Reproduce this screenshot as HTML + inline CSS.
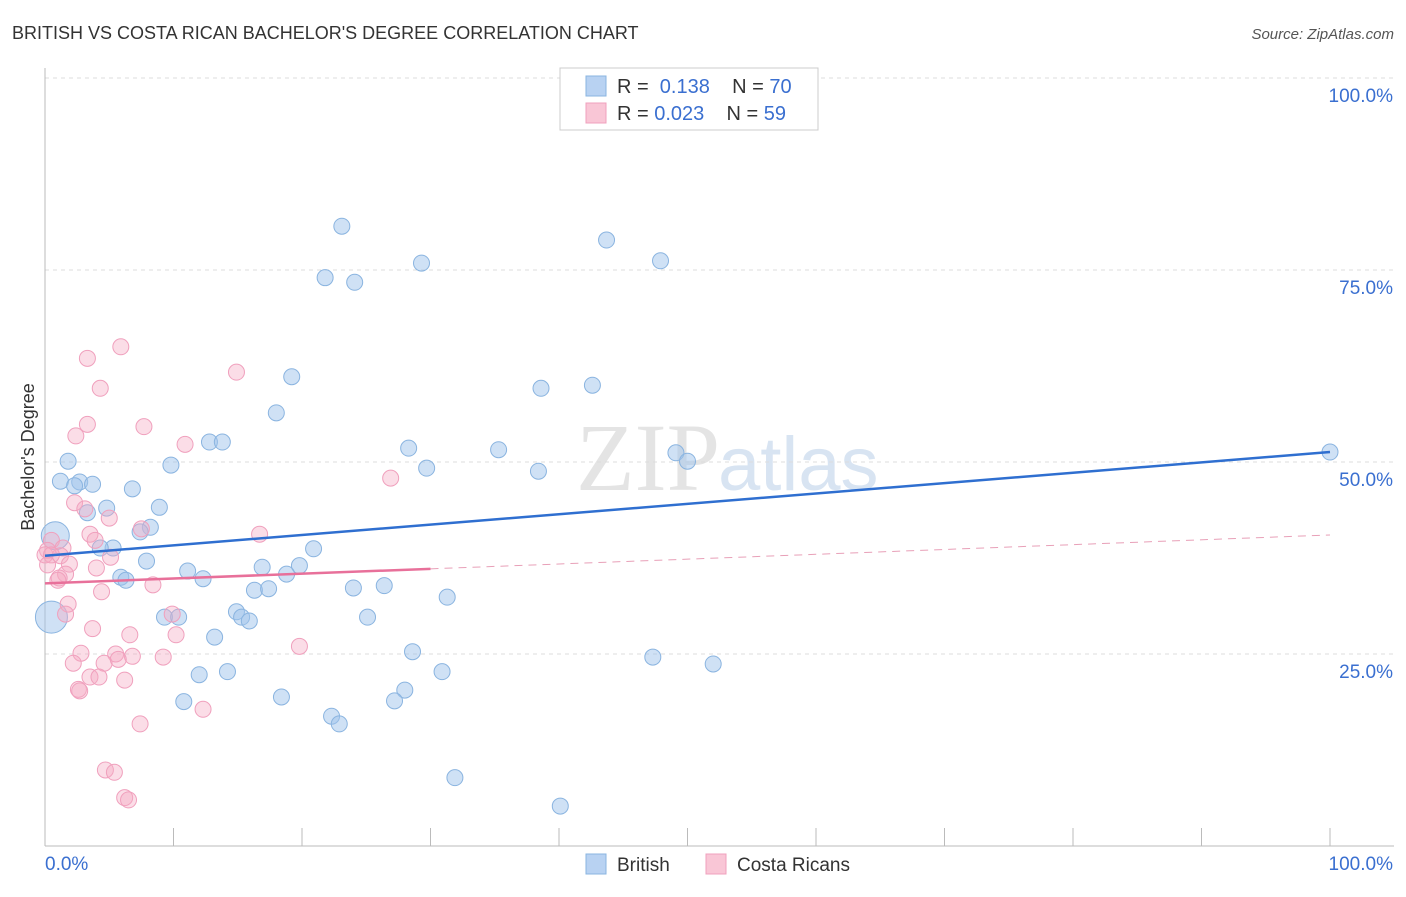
<!DOCTYPE html>
<html><head><meta charset="utf-8"><style>
body{margin:0;background:#fff;font-family:"Liberation Sans",sans-serif}
</style></head><body>
<svg id="chart" width="1406" height="892" xmlns="http://www.w3.org/2000/svg" font-family="Liberation Sans, sans-serif">
<text x="12" y="39" font-size="18" fill="#333">BRITISH VS COSTA RICAN BACHELOR'S DEGREE CORRELATION CHART</text>
<text x="1394" y="39" font-size="15" fill="#555" text-anchor="end" font-style="italic">Source: ZipAtlas.com</text>
<text x="720" y="490" font-size="96" fill="#e4e4e4" text-anchor="end" font-family="Liberation Serif, serif">ZIP</text>
<text x="718" y="490" font-size="76" fill="#d8e4f2">atlas</text>
<g id="grid"></g><g id="pts"></g><g id="lines"></g>
<text transform="translate(34,457) rotate(-90)" font-size="18" fill="#333" text-anchor="middle">Bachelor's Degree</text>
<g>
<rect x="560" y="68" width="258" height="62" fill="#fff" stroke="#ccc"/>
<rect x="586" y="76" width="20" height="20" fill="#b8d2f2" stroke="#8ab4e0"/>
<rect x="586" y="103" width="20" height="20" fill="#f9c6d6" stroke="#f0a0bd"/>
<text x="617" y="93" font-size="20" fill="#333">R = <tspan fill="#3a6fd0">&#160;0.138</tspan>&#160;&#160;&#160; N = <tspan fill="#3a6fd0">70</tspan></text>
<text x="617" y="120" font-size="20" fill="#333">R = <tspan fill="#3a6fd0">0.023</tspan>&#160;&#160;&#160; N = <tspan fill="#3a6fd0">59</tspan></text>
</g>
<g>
<rect x="586" y="854" width="20" height="20" fill="#b8d2f2" stroke="#8ab4e0"/>
<text x="617" y="871" font-size="19" fill="#333">British</text>
<rect x="706" y="854" width="20" height="20" fill="#f9c6d6" stroke="#f0a0bd"/>
<text x="737" y="871" font-size="19" fill="#333">Costa Ricans</text>
</g>
</svg>
<script>
const yTicks=[100,75,50,25];
const yTickLabels=["100.0%","75.0%","50.0%","25.0%"];
const xTicks=[0,10,20,30,40,50,60,70,80,90,100];
const britishX=[23.1,43.7,47.9,29.3,21.8,24.1,19.2,38.6,42.6,18.0,12.8,13.8,28.3,35.3,49.1,50.0,9.8,29.7,38.4,1.8,1.2,2.7,3.7,2.3,6.8,8.9,4.8,3.3,8.2,7.4,0.8,5.3,4.3,20.9,7.9,16.9,19.8,11.1,18.8,12.3,5.9,6.3,16.3,17.4,24.0,26.4,31.3,14.9,15.3,15.9,9.3,10.4,25.1,13.2,0.5,28.6,47.3,52.0,30.9,14.2,12.0,28.0,18.4,27.2,10.8,22.3,22.9,31.9,40.1,100];
const britishY=[80.7,78.9,76.2,75.9,74.0,73.4,61.1,59.6,60.0,56.4,52.6,52.6,51.8,51.6,51.2,50.1,49.6,49.2,48.8,50.1,47.5,47.4,47.1,46.9,46.5,44.1,44.0,43.4,41.5,40.9,40.4,38.8,38.8,38.7,37.1,36.3,36.5,35.8,35.4,34.8,35.0,34.6,33.3,33.5,33.6,33.9,32.4,30.5,29.8,29.3,29.8,29.8,29.8,27.2,29.8,25.3,24.6,23.7,22.7,22.7,22.3,20.3,19.4,18.9,18.8,16.9,15.9,8.9,5.2,51.3];
const costaX=[5.9,3.3,14.9,4.3,3.3,7.7,2.4,10.9,26.9,2.3,3.1,5.0,7.5,16.7,3.5,3.9,0.5,1.4,0.2,5.1,1.2,1.9,4.0,1.6,1.1,1.0,8.4,4.4,1.8,1.6,9.9,3.7,10.2,6.6,19.8,2.8,5.5,6.8,2.2,4.6,5.7,9.2,3.5,4.2,6.2,2.6,2.7,12.3,7.4,4.7,5.4,6.2,6.5,0,0.5,0.2];
const costaY=[65.0,63.5,61.7,59.6,54.9,54.6,53.4,52.3,47.9,44.7,43.9,42.7,41.3,40.6,40.6,39.8,39.8,38.8,38.5,37.6,37.8,36.7,36.2,35.4,34.9,34.6,34.0,33.1,31.5,30.2,30.2,28.3,27.5,27.5,26.0,25.1,25.0,24.7,23.8,23.8,24.3,24.6,22.0,22.0,21.6,20.4,20.2,17.8,15.9,9.9,9.6,6.3,6.0,37.9,37.9,36.6];
const britishTrend=[37.8,51.3];
const costaTrend=[34.2,40.5];
const costaSolidEnd=30;
const X=v=>45+v*12.85, Y=v=>846-v*7.68;
const NS="http://www.w3.org/2000/svg";
function mk(tag,attrs,parent){const e=document.createElementNS(NS,tag);for(const k in attrs)e.setAttribute(k,attrs[k]);parent.appendChild(e);return e;}
const grid=document.getElementById('grid');
yTicks.forEach((t,i)=>{
 const l=mk('line',{x1:45,x2:1394,y1:Y(t),y2:Y(t),stroke:'#ddd','stroke-dasharray':'4,4'},grid);
 
 
 const tx=mk('text',{x:1393,y:Y(t)+24,'font-size':19,fill:'#3a6fd0','text-anchor':'end'},grid);
 tx.textContent=yTickLabels[i];
 
 
});
const ax=mk('line',{x1:45,x2:45,y1:68,y2:846,stroke:'#bbb'},grid);


const bx=mk('line',{x1:45,x2:1394,y1:846,y2:846,stroke:'#bbb'},grid);


xTicks.forEach(t=>{
 const l=mk('line',{x1:X(t),x2:X(t),y1:828,y2:846,stroke:'#bbb'},grid);
 
 
});
[[0,"0.0%",'start',45],[100,"100.0%",'end',1393]].forEach(a=>{
 const tx=mk('text',{x:a[3],y:870,'font-size':19,fill:'#3a6fd0','text-anchor':a[2]},grid);
 tx.textContent=a[1];
 
 
});
const pts=document.getElementById('pts');
britishX.forEach((x,i)=>{
 const r=(i===30)?14:(i===54?16:8);
 const c=mk('circle',{cx:X(x),cy:Y(britishY[i]),r:r,fill:'rgba(160,195,235,0.5)',stroke:'#8ab4e0','stroke-width':1},pts);
 
 
});
costaX.forEach((x,i)=>{
 const c=mk('circle',{cx:X(x),cy:Y(costaY[i]),r:8,fill:'rgba(245,170,195,0.4)',stroke:'#f0a0bd','stroke-width':1},pts);
 
 
});
const lines=document.getElementById('lines');
const b=mk('line',{x1:X(0),y1:Y(britishTrend[0]),x2:X(100),y2:Y(britishTrend[1]),stroke:'#2f6fd0','stroke-width':2.5},lines);


const cmid=costaTrend[0]+(costaTrend[1]-costaTrend[0])*costaSolidEnd/100;
const c1=mk('line',{x1:X(0),y1:Y(costaTrend[0]),x2:X(costaSolidEnd),y2:Y(cmid),stroke:'#e8709a','stroke-width':2.5},lines);


const c2=mk('line',{x1:X(costaSolidEnd),y1:Y(cmid),x2:X(100),y2:Y(costaTrend[1]),stroke:'#e8a0b8','stroke-width':1,'stroke-dasharray':'8,6'},lines);


</script>
</body></html>
